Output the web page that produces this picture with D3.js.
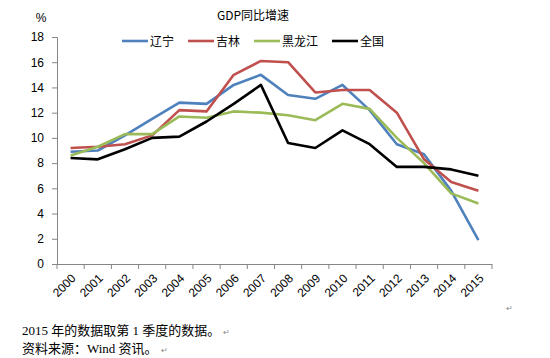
<!DOCTYPE html>
<html><head><meta charset="utf-8">
<script src="https://cdn.jsdelivr.net/npm/d3@7"></script>
<style>
body{margin:0;background:#fff;}
svg{display:block;}
</style>
</head><body>
<svg id="chart" width="550" height="358"></svg>
<script>
const years = ["2000","2001","2002","2003","2004","2005","2006","2007","2008","2009","2010","2011","2012","2013","2014","2015"];
const liaoning = [8.9,9.0,10.2,11.5,12.8,12.7,14.2,15.0,13.4,13.1,14.2,12.2,9.5,8.7,5.8,1.9];
const jilin = [9.2,9.3,9.5,10.2,12.2,12.1,15.0,16.1,16.0,13.6,13.8,13.8,12.0,8.3,6.5,5.8];
const heilongjiang = [8.6,9.3,10.3,10.3,11.7,11.6,12.1,12.0,11.8,11.4,12.7,12.3,10.0,8.0,5.6,4.8];
const national = [8.4,8.3,9.1,10.0,10.1,11.3,12.7,14.2,9.6,9.2,10.6,9.5,7.7,7.7,7.5,7.0];
const seriesNames = ["辽宁","吉林","黑龙江","全国"];
const seriesColors = ["#4F81BD","#C0504D","#9BBB59","#000000"];
const yTicks = [0,2,4,6,8,10,12,14,16,18];
const title = "GDP同比增速";
const unitLabel = "%";
const notes = ["2015 年的数据取第 1 季度的数据。","资料来源：Wind 资讯。"];

const allSeries = [liaoning, jilin, heilongjiang, national];
const svg = d3.select("#chart");
const L = 57, R = 492, T = 37, B = 264;

const x = d3.scaleBand().domain(years).range([L, R]).padding(0);
const y = d3.scaleLinear().domain([0, 18]).range([B, T]);

const sansFont = "'Liberation Sans','Noto Sans CJK SC',sans-serif";
const cjkFont = "'Noto Sans CJK SC','Liberation Sans',sans-serif";

// Y axis
const yAxis = svg.append("g").attr("transform", `translate(${L},0)`)
  .call(d3.axisLeft(y).tickValues(yTicks).tickSize(5).tickPadding(8).tickFormat(d3.format("d")));
yAxis.selectAll("path,line").attr("stroke", "#868686");
yAxis.selectAll("text").attr("font-family", sansFont).attr("font-size", 12).attr("fill", "#000");

// X axis
const xAxis = svg.append("g").attr("transform", `translate(0,${B})`)
  .call(d3.axisBottom(x).tickSize(0).tickPadding(0));
xAxis.select("path").attr("stroke", "#868686").attr("d", `M${L},0.5H${R}`);
xAxis.selectAll("text")
  .attr("font-family", sansFont).attr("font-size", 12).attr("fill", "#000")
  .attr("text-anchor", "end")
  .attr("dy", "0.35em")
  .attr("transform", "translate(3,12) rotate(-45)");
const boundaries = years.map(d => x(d)).concat([x(years[years.length-1]) + x.bandwidth()]);
xAxis.selectAll(".bt").data(boundaries).enter().append("line")
  .attr("x1", d => d).attr("x2", d => d).attr("y1", 0).attr("y2", 5)
  .attr("stroke", "#868686");

// Lines
const line = d3.line().x((d, i) => x(years[i]) + x.bandwidth()/2).y(d => y(d));
allSeries.forEach((s, k) => {
  svg.append("path").datum(s).attr("d", line)
    .attr("fill", "none").attr("stroke", seriesColors[k])
    .attr("stroke-width", 2.6).attr("stroke-linejoin", "round");
});

// Title and unit
svg.append("text").attr("x", 253).attr("y", 20).attr("text-anchor", "middle")
  .attr("font-family", cjkFont).attr("font-size", 12).text(title);
svg.append("text").attr("x", 41).attr("y", 22).attr("text-anchor", "middle")
  .attr("font-family", sansFont).attr("font-size", 12).text(unitLabel);

// Legend
const legendX = [122, 188, 254, 332];
seriesNames.forEach((n, k) => {
  const g = svg.append("g").attr("transform", `translate(${legendX[k]},41)`);
  g.append("line").attr("x1", 0).attr("x2", 26).attr("y1", 0).attr("y2", 0)
    .attr("stroke", seriesColors[k]).attr("stroke-width", 2.6);
  g.append("text").attr("x", 28).attr("y", 4.5).attr("font-family", cjkFont)
    .attr("font-size", 12).text(n);
});

// Notes
const serif = "'Liberation Serif','Noto Sans CJK SC',serif";
notes.forEach((t, i) => {
  const tx = svg.append("text").attr("x", 22).attr("y", 335 + i*18)
    .attr("font-family", serif).attr("font-size", 13).attr("fill", "#000").text(t);
  const w = tx.node().getComputedTextLength();
  svg.append("text").attr("x", 22 + w + 3).attr("y", 335 + i*18)
    .attr("font-family", sansFont).attr("font-size", 8).attr("fill", "#888").text("↵");
});
svg.append("text").attr("x", 506).attr("y", 311)
  .attr("font-family", sansFont).attr("font-size", 8).attr("fill", "#888").text("↵");
</script>
</body></html>
